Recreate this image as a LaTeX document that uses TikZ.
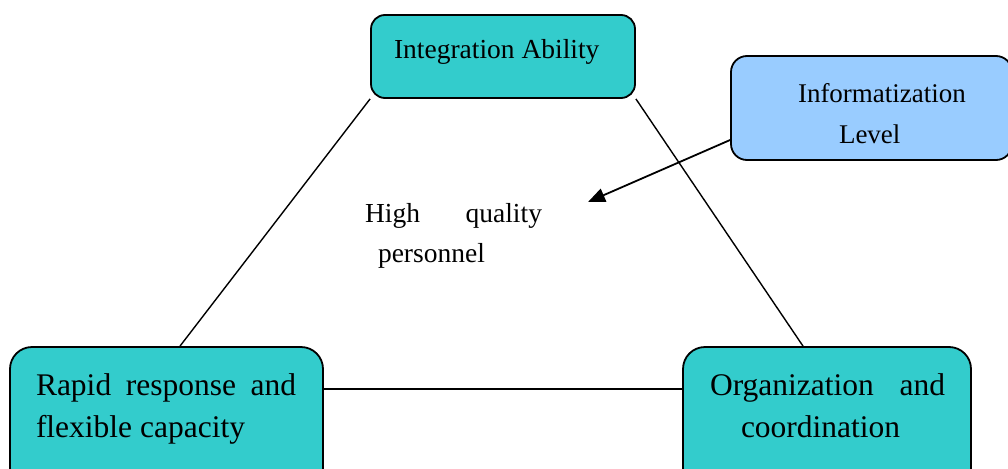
\documentclass[tikz,border=0pt]{standalone}
\usepackage{fontspec}
\setmainfont{Liberation Serif}
\usetikzlibrary{arrows.meta}
\definecolor{tealfill}{RGB}{51,204,204}
\definecolor{bluefill}{RGB}{153,204,255}
\begin{document}
\begin{tikzpicture}[x=1pt,y=-1pt,
  box/.style={draw=black,line width=1.8pt,rounded corners=#1,inner sep=0pt},
  box/.default=15pt,
  txt/.style={inner sep=0pt,outer sep=0pt,anchor=base west,align=left},
  link/.style={line width=1.4pt,black},
  pointer/.style={line width=1.8pt,black,-{Triangle[length=17pt,width=14pt]}}]
\clip (0,0) rectangle (1008,468);
\fill[white] (0,0) rectangle (1008,468);
% boxes
\node[box=14pt,fill=tealfill,minimum width=264pt,minimum height=83pt] (top) at (503,56.5) {};
\node[box=16pt,fill=bluefill,minimum width=281pt,minimum height=104pt] (info) at (871.5,108) {};
\node[box=22pt,fill=tealfill,minimum width=313pt,minimum height=143pt] (rapid) at (166.5,418.5) {};
\node[box=22pt,fill=tealfill,minimum width=288pt,minimum height=143pt] (org) at (827,418.5) {};
% texts (base anchor = baseline of the last line)
\node[txt,font=\fontsize{27.5}{34}\selectfont] (toptext) at (394,59) {Integration Ability};
\node[txt,font=\fontsize{27}{41}\selectfont] (infotext) at (798,143) {Informatization\\\hspace*{41pt}Level};
\node[txt,font=\fontsize{27.5}{40}\selectfont] (hq) at (365,262) {\makebox[177pt][s]{High quality}\\\hspace*{13pt}personnel};
\node[txt,font=\fontsize{31.5}{42}\selectfont] (rapidtext) at (36,437) {\makebox[260pt][s]{Rapid response and}\\flexible capacity};
\node[txt,font=\fontsize{31.5}{42}\selectfont] (orgtext) at (710,437) {\makebox[235pt][s]{Organization and}\\\hspace*{31pt}coordination};
% connectors
\coordinate (hqtip) at (588,202);
\draw[link] (top.south west) -- ([xshift=13.5pt]rapid.north);
\draw[link] (top.south east) -- ([xshift=-24pt]org.north);
\draw[link] ([yshift=29.5pt]rapid.east) -- ([yshift=29.5pt]org.west);
\draw[pointer] ([yshift=-32pt]info.west) -- (hqtip);
\end{tikzpicture}
\end{document}
